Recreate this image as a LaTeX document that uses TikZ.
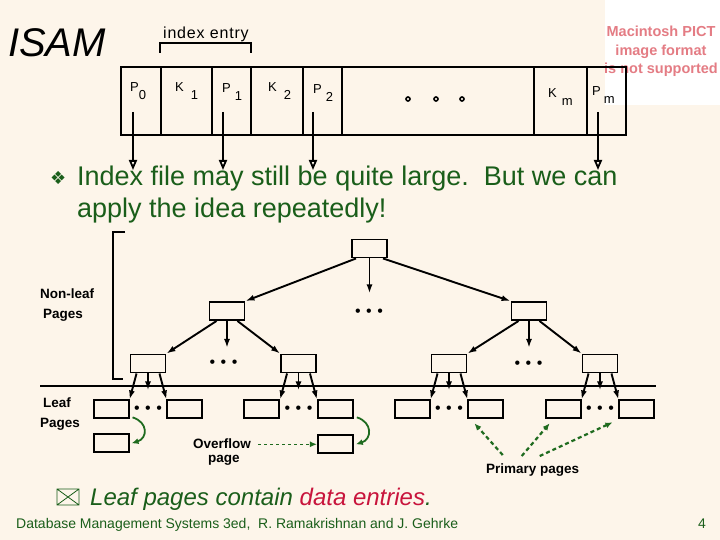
\documentclass[tikz,border=0pt]{standalone}
\usepackage{fontspec}
\setmainfont{Liberation Sans}
\newfontfamily\symfont{DejaVu Sans}
\newfontfamily\spacedfont[LetterSpace=5]{Liberation Sans}
\usetikzlibrary{arrows.meta,calc,positioning}
\definecolor{slidebg}{HTML}{FDF5EA}
\definecolor{slidegreen}{HTML}{1A5E1A}
\definecolor{arrowgreen}{HTML}{1F6B1F}
\definecolor{datared}{HTML}{C8143C}
\definecolor{pictpink}{HTML}{E47C84}
% key with a lowered index, gap between the two
\newcommand\idx[3]{#1\hspace{#3}\raisebox{-8pt}{#2}}
\begin{document}
\begin{tikzpicture}[x=1pt, y=-1pt,
  cell/.style={draw, line width=1.8pt, anchor=north west, minimum height=68pt, inner sep=0pt},
  lbl/.style={anchor=base west, inner sep=0pt, font=\fontsize{13}{15}\selectfont},
  ptr/.style={line width=1.8pt, -{Triangle[open,length=10pt,width=8pt]}},
  page/.style={draw, line width=1.9pt, minimum width=35pt, minimum height=18pt, inner sep=0pt},
  tree/.style={line width=1.9pt, -{Latex[length=9pt,width=6pt]}},
  dots/.style={inner sep=0pt, font=\fontsize{16}{18}\selectfont},
  side/.style={anchor=base west, inner sep=0pt, font=\fontsize{13.5}{15}\selectfont\bfseries},
  body/.style={anchor=base west, inner sep=0pt, text=slidegreen, font=\fontsize{27}{32}\selectfont},
  foot/.style={anchor=base west, inner sep=0pt, text=slidegreen, font=\fontsize{14}{16}\selectfont},
  ovf/.style={draw=arrowgreen, line width=1.8pt, -{Latex[length=7pt,width=6pt]}},
  prim/.style={draw=arrowgreen, line width=2.2pt, dash pattern=on 4pt off 3pt, -{Latex[length=7pt,width=6pt]}},
  pict/.style={anchor=base, inner sep=0pt, text=pictpink, font=\fontsize{14.5}{17}\selectfont\bfseries},
]
\def\dotrow{\textbullet\hspace{5.5pt}\textbullet\hspace{5.5pt}\textbullet}
\useasboundingbox (0,0) rectangle (720,540);
\fill[slidebg] (0,0) rectangle (720,540);

% placeholder of the missing picture, top right
\fill[white] (605,0) rectangle (720,105);
\node[pict] (pict1) at (661,37) {Macintosh PICT};
\node[pict] (pict2) at (661,56) {image format};
\node[pict] (pict3) at (661,74) {is not supported};

\node[anchor=base west, inner sep=0pt, font=\fontsize{40}{44}\selectfont\itshape] (title) at (8,57) {ISAM};
\node[anchor=base west, inner sep=0pt, font=\fontsize{16}{18}\selectfont\spacedfont] (entrylbl) at (163,39) {index entry};
\draw[line width=1.8pt] (160,53) -- (160,43) -- (251,43) -- (251,53);

% index page: P0 K1 P1 K2 P2 ... Km Pm
\foreach \x/\w [count=\i] in {120/40,160/51,211/39,250/52,302/39,341/192,533/53,586/39}
  \node[cell, minimum width=\w pt] (c\i) at (\x,66) {};
\node[lbl] (lp0) at (130,92) {\idx{P}{0}{0pt}};
\node[lbl] (lk1) at (175,92) {\idx{K}{1}{7pt}};
\node[lbl] (lp1) at (222,93) {\idx{P}{1}{4pt}};
\node[lbl] (lk2) at (268,92) {\idx{K}{2}{7pt}};
\node[lbl] (lp2) at (313,94) {\idx{P}{2}{4pt}};
\node[lbl] (lkm) at (548,98) {\idx{K}{m}{5pt}};
\node[lbl] (lpm) at (592,96) {\idx{P}{m}{3pt}};
\foreach \x in {408,436,462}
  \draw[line width=1.6pt] (\x,99) circle (2pt);

% bullet text
\node[anchor=base west, inner sep=0pt, text=slidegreen, font=\fontsize{18}{20}\selectfont\symfont] (bul) at (50,185) {❖};
\node[body] (line1) at (77,186) {Index file may still be quite large.\ \ But we can};
\node[body] (line2) at (77,218) {apply the idea repeatedly!};

\foreach \x/\n in {133/0,223/1,313/2,598/m} {
  \coordinate (pt\n) at (\x,112);
  \coordinate (ph\n) at (\x,170);
  \draw[ptr] (pt\n) -- (ph\n);
}

% tree of index pages
\node[page] (root) at (369.5,248.5) {};
\node[page] (l2a) at (227,311) {};
\node[page] (l2b) at (529,311) {};
\node[page] (l3a) at (148,363.5) {};
\node[page] (l3b) at (298.5,363.5) {};
\node[page] (l3c) at (449,363.5) {};
\node[page] (l3d) at (600,363.5) {};

\draw[tree] ($(root.south west)+(5,0)$) -- (l2a.north east);
\draw[tree] ($(root.south east)+(-5,0)$) -- (l2b.north west);
\draw[tree] (root.south) -- ($(root.south)+(0,35)$);
\node[dots] (rootdots) at (369,313) {\dotrow};

\draw[tree] ($(l2a.south west)+(8,0)$) -- (l3a.north east);
\draw[tree] ($(l2a.south east)+(-8,0)$) -- (l3b.north west);
\draw[tree] (l2a.south) -- ($(l2a.south)+(0,27)$);
\node[dots] (l2adots) at (223.5,364) {\dotrow};
\draw[tree] ($(l2b.south west)+(8,0)$) -- (l3c.north east);
\draw[tree] ($(l2b.south east)+(-8,0)$) -- (l3d.north west);
\draw[tree] (l2b.south) -- ($(l2b.south)+(0,27)$);
\node[dots] (l2bdots) at (528.5,365) {\dotrow};

% leaf level
\draw[line width=1.8pt] (125,232) -- (113,232) -- (113,379) -- (123,379);
\draw[line width=1.8pt] (40,386) -- (656,386);
\foreach \b/\l/\r in {l3a/lf1/lf2, l3b/lf3/lf4, l3c/lf5/lf6, l3d/lf7/lf8} {
  \node[page, below left=26pt and 0pt of \b.south west] (\l) {};
  \node[page, below right=26pt and 0pt of \b.south east] (\r) {};
  \draw[tree] ($(\b.south west)+(7,0)$) -- (\l.north east);
  \draw[tree] (\b.south) -- ($(\b.south)+(0,17)$);
  \draw[tree] ($(\b.south east)+(-7,0)$) -- (\r.north west);
  \node[dots] (\l-dots) at ($(\l.east)!0.5!(\r.west)$) {\dotrow};
}
\node[page, below=14pt of lf1] (of1) {};
\node[page, below=15pt of lf4] (of2) {};
\draw[ovf] ($(lf1.south east)+(3,-2)$) .. controls +(16,5) and +(16,-5) .. ($(of1.east)+(2,0)$);
\draw[ovf] ($(lf4.south east)+(3,-2)$) .. controls +(16,5) and +(16,-5) .. ($(of2.east)+(2,0)$);

\node[side] (nonleaf) at (40,298) {Non-leaf};
\node[side] (nlpages) at (43,318) {Pages};
\node[side] (leaflbl) at (43,407) {Leaf};
\node[side] (lfpages) at (40,427) {Pages};
\node[side] (ovlbl) at (193,448) {Overflow};
\node[side] (ovpage) at (208,462) {page};
\node[side] (primlbl) at (486,473) {Primary pages};

\draw[prim, line width=1.6pt, dash pattern=on 3pt off 3pt] ($(ovlbl.east |- of2.west)+(7,0)$) -- (of2.west);
\draw[prim] ($(primlbl.north)+(-30,-8)$) -- ($(lf6.south west)+(7,4)$);
\draw[prim] ($(primlbl.north)+(-11,-7)$) -- ($(lf7.south west)+(5,4)$);
\draw[prim] ($(primlbl.north)+(7,-7)$) -- ($(lf8.south west)+(-6,3)$);

% closing note and footer
\draw[slidegreen, line width=0.8pt] (57,489) rectangle (79,505) (57,489) -- (79,505) (79,489) -- (57,505);
\node[body, font=\fontsize{24}{28}\selectfont\itshape] (leafnote) at (90,505) {Leaf pages contain \textcolor{datared}{data entries}.};
\node[foot] (credit) at (16,528) {Database Management Systems 3ed,\ \ R. Ramakrishnan and J. Gehrke};
\node[foot] (pageno) at (698,528) {4};
\end{tikzpicture}
\end{document}
